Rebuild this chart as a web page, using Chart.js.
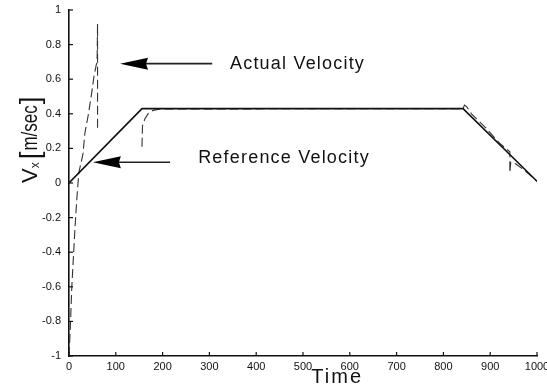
<!DOCTYPE html>
<html>
<head>
<meta charset="utf-8">
<script src="https://cdn.jsdelivr.net/npm/chart.js@4"></script>
<style>
  html, body { margin: 0; padding: 0; background: #fff; }
  #wrap { width: 547px; height: 387px; }
</style>
</head>
<body>
<div id="wrap"><canvas id="chart" width="547" height="387"></canvas></div>
<script>
// reference (commanded) velocity profile
const refTime = [0, 156, 842, 1000];
const refVel = [0, 0.43, 0.43, 0.01];

const actTime = [0, 3, 6, 10, 13, 17, 21, 26, 30, 34, 41, 49, 53, 58, 60, 61, 61, 61,
    156, 157, 162, 170, 180, 195, 760, 790, 842, 845, 850, 860, 890, 920, 942, 942, 944, 955, 975, 1000];
const actVel = [-1, -0.82, -0.6, -0.4, -0.25, -0.08, 0.06, 0.12, 0.17, 0.29, 0.39, 0.53, 0.61, 0.68, 0.70, 0.92, 0.30, null,
    0.21, 0.33, 0.37, 0.405, 0.42, 0.428, 0.43, 0.43, 0.43, 0.45, 0.44, 0.40, 0.32, 0.23, 0.18, 0.06, 0.12, 0.11, 0.07, 0.01];

const xTicks = [0, 100, 200, 300, 400, 500, 600, 700, 800, 900, 1000];
const yTicks = [-1, -0.8, -0.6, -0.4, -0.2, 0, 0.2, 0.4, 0.6, 0.8, 1];

// arrow annotations: [text, tipTime, tipVel, tailTime, textTime, textVel]
const notes = [
    ['Actual Velocity', 109, 0.69, 306, 344, 0.69],
    ['Reference Velocity', 51, 0.12, 216, 276, 0.145],
];

const FONT = '"Liberation Sans", Arial, sans-serif';

const decor = {
    id: 'decor',
    afterDraw(chart) {
        const { ctx, chartArea: a, scales: { x, y } } = chart;
        ctx.save();
        ctx.strokeStyle = '#111';
        ctx.lineWidth = 1.2;
        // inward ticks
        xTicks.forEach(t => {
            const px = x.getPixelForValue(t);
            ctx.beginPath(); ctx.moveTo(px, a.bottom); ctx.lineTo(px, a.bottom - 4); ctx.stroke();
        });
        yTicks.forEach(t => {
            const py = y.getPixelForValue(t);
            ctx.beginPath(); ctx.moveTo(a.left, py); ctx.lineTo(a.left + 4, py); ctx.stroke();
        });

        // arrows + labels
        notes.forEach(([txt, tipT, tipV, tailT, textT, textV]) => {
            const tx = x.getPixelForValue(tipT), ty = y.getPixelForValue(tipV);
            const ex = x.getPixelForValue(tailT);
            ctx.strokeStyle = '#222';
            ctx.lineWidth = 1.6;
            ctx.beginPath(); ctx.moveTo(tx + 24, ty); ctx.lineTo(ex, ty); ctx.stroke();
            ctx.fillStyle = '#000';
            ctx.beginPath();
            ctx.moveTo(tx, ty);
            ctx.lineTo(tx + 28, ty - 6);
            ctx.lineTo(tx + 26, ty);
            ctx.lineTo(tx + 28, ty + 6);
            ctx.closePath();
            ctx.fill();
            ctx.font = '18px ' + FONT;
            ctx.letterSpacing = '1.2px';
            ctx.textBaseline = 'middle';
            ctx.textAlign = 'left';
            ctx.fillStyle = '#111';
            ctx.fillText(txt, x.getPixelForValue(textT), y.getPixelForValue(textV));
        });

        // x axis title
        ctx.font = '20px ' + FONT;
        ctx.letterSpacing = '2px';
        ctx.textAlign = 'center';
        ctx.textBaseline = 'alphabetic';
        ctx.fillText('Time', a.left + 0.573 * (a.right - a.left), 383);

        // y axis title, rotated, built from bottom to top
        ctx.letterSpacing = '0px';
        ctx.rotate(-Math.PI / 2);
        ctx.textAlign = 'left';
        let tx = -183;
        const base = 37;
        ctx.font = '22px ' + FONT;
        ctx.fillText('V', tx, base); tx += ctx.measureText('V').width;
        ctx.font = '12px ' + FONT;
        ctx.fillText('x', tx, base + 2); tx += ctx.measureText('x').width + 3;
        ctx.font = '28px ' + FONT;
        ctx.fillText('[', tx, base + 2); tx += ctx.measureText('[').width + 1;
        ctx.save();
        ctx.translate(tx, base);
        ctx.scale(1, 1.35);
        ctx.font = '17px ' + FONT;
        ctx.fillText('m/sec', 0, 0);
        const w = ctx.measureText('m/sec').width;
        ctx.restore();
        tx += w + 1;
        ctx.font = '28px ' + FONT;
        ctx.fillText(']', tx, base + 2);
        ctx.restore();
    }
};

new Chart(document.getElementById('chart'), {
    type: 'line',
    data: {
        datasets: [
            {
                label: 'Reference Velocity',
                data: refTime.map((t, i) => ({ x: t, y: refVel[i] })),
                borderColor: '#111',
                borderWidth: 1.6,
                pointRadius: 0,
                tension: 0,
            },
            {
                label: 'Actual Velocity',
                data: actTime.map((t, i) => ({ x: t, y: actVel[i] })),
                borderColor: '#333',
                borderWidth: 1.1,
                borderDash: [9, 4],
                pointRadius: 0,
                tension: 0,
                spanGaps: false,
            },
        ]
    },
    options: {
        responsive: false,
        animation: false,
        events: [],
        layout: { padding: { top: 10, right: 10, left: 0, bottom: 0 } },
        plugins: {
            legend: { display: false },
            tooltip: { enabled: false },
        },
        scales: {
            x: {
                type: 'linear',
                min: 0,
                max: 1000,
                afterFit: s => { s.height = 31; s.paddingRight = 0; s.paddingLeft = 0; },
                afterBuildTicks: s => { s.ticks = xTicks.map(v => ({ value: v })); },
                ticks: {
                    color: '#111',
                    font: { family: FONT, size: 11 },
                    padding: 4,
                    maxRotation: 0,
                    callback: v => String(v),
                },
                grid: { display: false, drawTicks: false },
                border: { display: true, color: '#111', width: 1.6 },
            },
            y: {
                min: -1,
                max: 1,
                afterFit: s => { s.width = 69; s.paddingTop = 0; s.paddingBottom = 0; },
                afterBuildTicks: s => { s.ticks = yTicks.map(v => ({ value: v })); },
                ticks: {
                    color: '#111',
                    font: { family: FONT, size: 11 },
                    padding: 8,
                    callback: v => String(Math.round(v * 10) / 10),
                },
                grid: { display: false, drawTicks: false },
                border: { display: true, color: '#111', width: 1.6 },
            }
        }
    },
    plugins: [decor]
});
</script>
</body>
</html>
